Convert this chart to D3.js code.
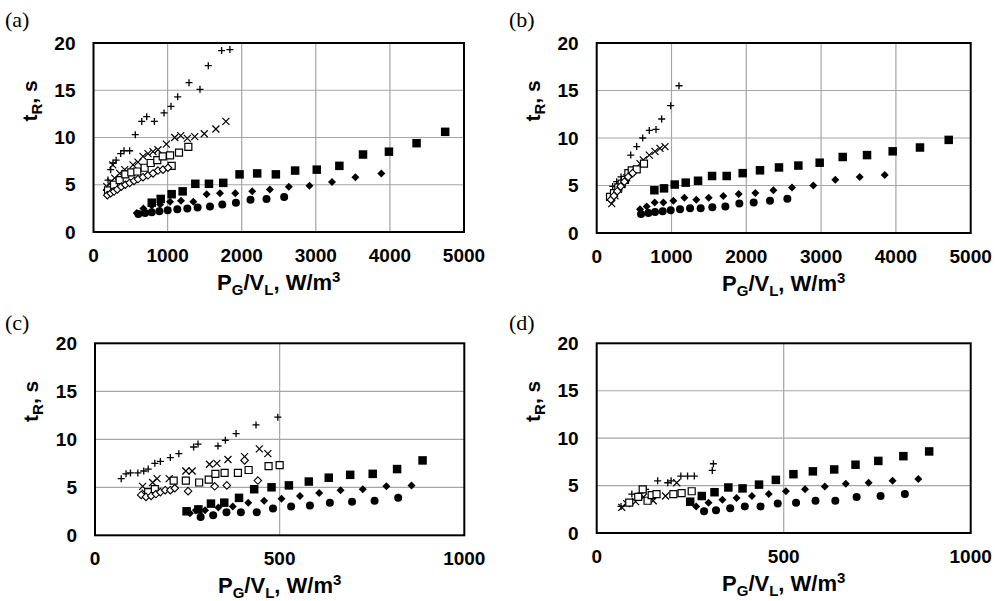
<!DOCTYPE html>
<html>
<head>
<meta charset="utf-8">
<script src="https://cdn.jsdelivr.net/npm/d3@7/dist/d3.min.js"></script>
<style>
  body { margin: 0; background: #fff; }
  svg text { font-family: "Liberation Sans", Arial, sans-serif; font-weight: bold; fill: #000; }
  svg text.plabel { font-family: "Liberation Serif", "Times New Roman", serif; font-weight: normal; }
</style>
</head>
<body>
<div id="chart"></div>
<script>
// ---- data: [P/V (W/m3), tR (s)] ----
const aPlus = [[173,4.4],[196,5.5],[232,6.6],[263,7.3],[305,7.6],[367,8.3],[412,8.6],[488,8.6],[564,10.3],[651,11.7],[718,12.2],[822,11.7],[952,12.6],[1046,13.3],[1136,14.3],[1289,15.8],[1437,15.1],[1549,17.6],[1729,19.2],[1841,19.3]];
const aCross = [[180,4.8],[233,5.3],[260,7.1],[286,5.7],[353,6.2],[421,6.6],[533,7.1],[600,7.4],[668,8.0],[735,8.3],[803,8.5],[870,8.7],[983,9.3],[1096,10.0],[1177,10.2],[1266,9.9],[1366,10.1],[1495,10.4],[1652,10.9],[1787,11.7]];
const aOpenSq = [[196,4.4],[277,5.0],[353,5.5],[429,6.1],[510,6.3],[591,6.4],[690,6.8],[772,7.3],[861,7.6],[934,8.0],[1033,8.1],[1154,8.4],[1280,9.0],[1055,7.0]];
const aOpenDia = [[187,3.9],[232,4.1],[277,4.3],[321,4.5],[375,4.8],[429,5.0],[488,5.2],[547,5.4],[600,5.6],[668,5.8],[735,6.0],[803,6.2],[870,6.5],[938,6.6],[1005,6.8]];
const aFillSq = [[786,3.1],[907,3.5],[1055,4.0],[1203,4.3],[1374,5.1],[1558,5.1],[1751,5.2],[1971,6.1],[2209,6.2],[2461,6.1],[2721,6.5],[3013,6.6],[3318,7.0],[3637,8.2],[3987,8.5],[4360,9.4],[4746,10.6]];
const aFillDia = [[584,2.0],[673,2.5],[786,2.8],[898,2.9],[1033,3.2],[1181,3.3],[1347,3.2],[1527,4.0],[1706,4.1],[1913,4.1],[2142,4.3],[2380,4.5],[2636,4.8],[2914,4.9],[3219,5.3],[3534,5.8],[3884,6.2]];
const aFillCirc = [[606,1.9],[696,2.0],[786,2.1],[889,2.2],[1001,2.3],[1131,2.4],[1266,2.5],[1405,2.6],[1572,2.7],[1738,2.9],[1922,3.1],[2119,3.4],[2335,3.5],[2573,3.7]];

const bPlus = [[214,4.9],[267,5.4],[325,5.9],[455,8.2],[535,9.1],[615,10.0],[703,10.8],[793,10.9],[869,12.0],[989,13.4],[1100,15.5]];
const bCross = [[201,3.1],[245,3.9],[290,4.6],[334,5.1],[401,5.8],[579,7.3],[623,7.7],[703,8.2],[779,8.6],[846,8.9],[913,9.1]];
const bOpenSq = [[178,3.8],[231,4.2],[289,4.8],[334,5.2],[378,5.6],[423,6.3],[468,6.6],[535,6.7],[632,7.3]];
const bOpenDia = [[190,3.5],[230,3.9],[275,4.4],[320,4.9],[370,5.4],[420,5.9],[480,6.3]];
const bFillSq = [[771,4.5],[900,4.7],[1043,5.1],[1190,5.3],[1355,5.5],[1542,6.0],[1738,6.0],[1952,6.3],[2183,6.6],[2437,6.9],[2696,7.1],[2981,7.4],[3289,8.0],[3614,8.2],[3957,8.6],[4322,9.0],[4706,9.8]];
const bFillDia = [[579,2.5],[668,2.8],[775,3.2],[891,3.2],[1025,3.4],[1172,3.7],[1332,3.5],[1497,3.7],[1693,3.9],[1898,4.1],[2121,4.2],[2362,4.5],[2611,4.8],[2896,5.0],[3190,5.6],[3516,5.9],[3850,6.1]];
const bFillCirc = [[593,2.0],[691,2.1],[780,2.2],[882,2.3],[989,2.4],[1114,2.5],[1248,2.6],[1390,2.6],[1546,2.7],[1720,2.8],[1907,3.1],[2099,3.2],[2317,3.4],[2549,3.6]];

const cPlus = [[71,5.9],[84,6.4],[96,6.5],[116,6.5],[132,6.7],[144,6.9],[162,7.5],[177,7.7],[204,8.1],[227,8.5],[267,9.2],[279,9.5],[333,9.3],[353,9.9],[382,10.6],[436,11.5],[495,12.3]];
const cCross = [[129,5.1],[136,4.4],[156,5.5],[168,5.9],[201,5.9],[246,6.7],[263,6.7],[310,7.4],[330,7.5],[360,7.9],[405,8.2],[445,9.0],[468,8.5]];
const cOpenSq = [[144,4.5],[162,4.8],[213,5.7],[246,5.7],[282,5.5],[308,5.8],[326,6.4],[351,6.5],[387,6.5],[416,6.8],[470,7.2],[500,7.3]];
const cOpenDia = [[125,4.2],[138,4.0],[152,4.1],[165,4.3],[177,4.5],[190,4.7],[204,4.7],[216,4.9],[252,4.6],[324,5.1],[357,5.2],[405,7.8],[441,5.7]];
const cFillSq = [[248,2.5],[280,2.7],[314,3.3],[350,3.4],[390,3.9],[431,4.8],[478,5.0],[525,5.2],[579,5.6],[633,6.0],[691,6.3],[752,6.4],[818,6.9],[887,7.8]];
const cFillDia = [[257,2.3],[273,2.6],[298,2.6],[334,2.9],[373,3.0],[415,3.4],[458,3.6],[505,3.8],[555,4.1],[607,4.4],[665,4.7],[725,4.8],[789,5.1],[857,5.2]];
const cFillCirc = [[286,1.9],[320,2.1],[356,2.4],[395,2.4],[438,2.4],[482,2.8],[531,3.0],[582,3.1],[636,3.4],[696,3.5],[757,3.6],[821,3.9]];

const dPlus = [[65,2.8],[94,4.1],[116,4.2],[131,4.6],[163,5.5],[190,5.3],[199,5.5],[225,6.0],[243,6.0],[261,6.0],[309,6.6],[312,7.3]];
const dCross = [[67,2.7],[80,3.1],[104,3.3],[125,3.8],[151,3.4],[184,3.9],[214,5.3]];
const dOpenSq = [[87,3.2],[111,3.8],[123,4.6],[136,3.4],[147,4.0],[160,4.1],[205,4.1],[227,4.2],[254,4.4]];
const dOpenDia = [];
const dFillSq = [[250,3.3],[281,3.9],[315,4.3],[352,4.8],[390,4.7],[434,5.1],[479,5.6],[526,6.2],[578,6.5],[635,6.7],[692,7.2],[753,7.6],[820,8.1],[889,8.6]];
const dFillDia = [[266,2.8],[299,3.2],[336,3.5],[374,3.7],[415,3.9],[460,4.1],[506,4.4],[557,4.6],[610,4.9],[666,5.2],[727,5.3],[791,5.5],[860,5.7]];
const dFillCirc = [[287,2.3],[319,2.4],[357,2.6],[396,2.8],[438,2.8],[484,3.1],[533,3.2],[585,3.4],[638,3.4],[695,3.8],[759,3.9],[824,4.1]];

const yTicks = [0, 5, 10, 15, 20];
const xTicksTop = [0, 1000, 2000, 3000, 4000, 5000];
const xTicksBottom = [0, 500, 1000];
const panelLabels = ["(a)", "(b)", "(c)", "(d)"];

// ---- custom marker shapes (size = area, half-width r = sqrt(size)/2) ----
const thinPlus = { draw(ctx, size) { const r = Math.sqrt(size) / 2;
  ctx.moveTo(-r, 0); ctx.lineTo(r, 0); ctx.moveTo(0, -r); ctx.lineTo(0, r); } };
const thinCross = { draw(ctx, size) { const r = Math.sqrt(size) / 2;
  ctx.moveTo(-r, -r); ctx.lineTo(r, r); ctx.moveTo(-r, r); ctx.lineTo(r, -r); } };
const rhombus = { draw(ctx, size) { const r = Math.sqrt(size) / 2;
  ctx.moveTo(0, -r); ctx.lineTo(r, 0); ctx.lineTo(0, r); ctx.lineTo(-r, 0); ctx.closePath(); } };
const box = { draw(ctx, size) { const r = Math.sqrt(size) / 2; ctx.rect(-r, -r, 2 * r, 2 * r); } };

const seriesStyle = [
  { type: thinPlus, w: 7, fill: "none", stroke: "#000", sw: 1.3 },
  { type: thinCross, w: 7, fill: "none", stroke: "#000", sw: 1.2 },
  { type: box, w: 7, fill: "#fff", stroke: "#000", sw: 1.2 },
  { type: rhombus, w: 7.5, fill: "#fff", stroke: "#000", sw: 1.1 },
  { type: box, w: 8.5, fill: "#000", stroke: "none", sw: 0 },
  { type: rhombus, w: 8, fill: "#000", stroke: "none", sw: 0 },
  { type: d3.symbolCircle, w: 8, fill: "#000", stroke: "none", sw: 0 },
];

const panels = [
  { label: panelLabels[0], left: 93.5, right: 464, top: 43, bottom: 232, xMax: 5000, xTicks: xTicksTop,
    series: [aPlus, aCross, aOpenSq, aOpenDia, aFillSq, aFillDia, aFillCirc] },
  { label: panelLabels[1], left: 596.7, right: 970.7, top: 43, bottom: 233, xMax: 5000, xTicks: xTicksTop,
    series: [bPlus, bCross, bOpenSq, bOpenDia, bFillSq, bFillDia, bFillCirc] },
  { label: panelLabels[2], left: 95, right: 464.3, top: 343.3, bottom: 535.3, xMax: 1000, xTicks: xTicksBottom,
    series: [cPlus, cCross, cOpenSq, cOpenDia, cFillSq, cFillDia, cFillCirc] },
  { label: panelLabels[3], left: 596.7, right: 970.7, top: 343.3, bottom: 533, xMax: 1000, xTicks: xTicksBottom,
    series: [dPlus, dCross, dOpenSq, dOpenDia, dFillSq, dFillDia, dFillCirc] },
];

const svg = d3.select("#chart").append("svg")
  .attr("width", 995).attr("height", 601);

panels.forEach((p, pi) => {
  const x = d3.scaleLinear().domain([0, p.xMax]).range([p.left, p.right]);
  const y = d3.scaleLinear().domain([0, 20]).range([p.bottom, p.top]);
  const g = svg.append("g");

  // gridlines
  g.selectAll(".gx").data(p.xTicks.slice(1, -1)).join("line")
    .attr("x1", d => x(d)).attr("x2", d => x(d))
    .attr("y1", p.top).attr("y2", p.bottom)
    .attr("stroke", "#a6a6a6").attr("stroke-width", 1.2);
  g.selectAll(".gy").data(yTicks.slice(1, -1)).join("line")
    .attr("y1", d => y(d)).attr("y2", d => y(d))
    .attr("x1", p.left).attr("x2", p.right)
    .attr("stroke", "#a6a6a6").attr("stroke-width", 1.2);

  // markers
  p.series.forEach((data, si) => {
    const st = seriesStyle[si];
    const sym = d3.symbol().type(st.type).size(st.type === d3.symbolCircle ? Math.PI * (st.w / 2) ** 2 : st.w * st.w);
    g.append("g").selectAll("path").data(data).join("path")
      .attr("transform", d => `translate(${x(d[0])},${y(d[1])})`)
      .attr("d", sym)
      .attr("fill", st.fill)
      .attr("stroke", st.stroke)
      .attr("stroke-width", st.sw);
  });

  // frame
  g.append("rect")
    .attr("x", p.left).attr("y", p.top)
    .attr("width", p.right - p.left).attr("height", p.bottom - p.top)
    .attr("fill", "none").attr("stroke", "#000").attr("stroke-width", 2);

  // tick labels
  g.selectAll(".ty").data(yTicks).join("text")
    .attr("x", p.left - 18).attr("y", d => y(d) + 6.5)
    .attr("text-anchor", "end").attr("font-size", 19)
    .text(d => d);
  g.selectAll(".tx").data(p.xTicks).join("text")
    .attr("x", d => x(d)).attr("y", p.bottom + 30)
    .attr("text-anchor", "middle").attr("font-size", 19)
    .text(d => d);

  // x axis title: P_G/V_L, W/m^3
  const xt = g.append("text")
    .attr("x", (p.left + p.right) / 2).attr("y", p.bottom + 58)
    .attr("text-anchor", "middle").attr("font-size", 22);
  xt.append("tspan").text("P");
  xt.append("tspan").attr("dy", 5).attr("font-size", 15).text("G");
  xt.append("tspan").attr("dy", -5).text("/V");
  xt.append("tspan").attr("dy", 5).attr("font-size", 15).text("L");
  xt.append("tspan").attr("dy", -5).text(", W/m");
  xt.append("tspan").attr("dy", -8).attr("font-size", 15).text("3");

  // y axis title: t_R, s
  const yx = p.left - 57, yy = p.top + 58;
  const yt = g.append("text")
    .attr("transform", `translate(${yx},${yy}) rotate(-90)`)
    .attr("text-anchor", "middle").attr("font-size", 21);
  yt.append("tspan").text("t");
  yt.append("tspan").attr("dy", 5).attr("font-size", 15).text("R");
  yt.append("tspan").attr("dy", -5).text(", s");

  // panel label
  svg.append("text").attr("class", "plabel")
    .attr("x", pi % 2 === 0 ? 5 : 509).attr("y", pi < 2 ? 27 : 330)
    .attr("font-size", 22)
    .text(p.label);
});
</script>
</body>
</html>
